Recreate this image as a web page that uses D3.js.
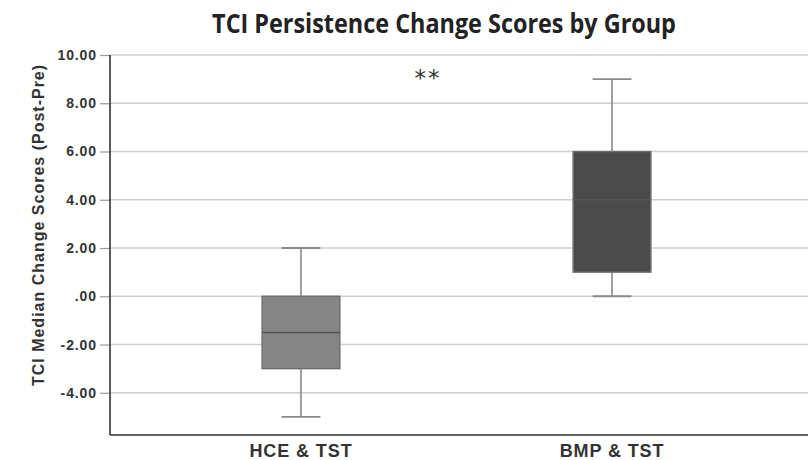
<!DOCTYPE html>
<html>
<head>
<meta charset="utf-8">
<script src="https://cdn.jsdelivr.net/npm/d3@7"></script>
<style>
  body { margin: 0; background: #fff; }
  svg { display: block; }
</style>
</head>
<body>
<script>
// Data
var groups = ["HCE & TST", "BMP & TST"];
var mins    = [-5, 0];
var q1s     = [-3, 1];
var medians = [-1.5, 4];
var q3s     = [0, 6];
var maxs    = [2, 9];
var boxColors = ["#858585", "#4b4b4b"];
var yTicks = [-4, -2, 0, 2, 4, 6, 8, 10];

var svgWidth = 808;
var svgHeight = 460;

var chartMargin = { top: 55, right: 0, bottom: 25, left: 110 };
var chartWidth = svgWidth - chartMargin.left - chartMargin.right;
var chartHeight = svgHeight - chartMargin.top - chartMargin.bottom;

var svg = d3.select("body")
            .append("svg")
            .attr("width", svgWidth)
            .attr("height", svgHeight);

var chartGroup = svg.append("g")
                    .attr("transform", `translate(${chartMargin.left}, ${chartMargin.top})`);

var x = d3.scalePoint()
          .domain(groups)
          .range([0, chartWidth - 5])
          .padding(0.614);

var y = d3.scaleLinear()
          .domain([-5.75, 10])
          .range([chartHeight, 0]);

// gridlines
chartGroup.selectAll(".grid")
          .data(yTicks)
          .enter()
          .append("line")
          .attr("x1", 0)
          .attr("x2", chartWidth)
          .attr("y1", d => y(d))
          .attr("y2", d => y(d))
          .style("stroke", "#cfcfcf")
          .style("stroke-width", 1.5);

// y axis, SPSS style labels (".00", plain hyphen)
var fmt = function(d) {
  var s = d3.format(".2f")(d).replace("\u2212", "-");
  return d === 0 ? ".00" : s;
};
var yAxis = chartGroup.append("g")
          .call(d3.axisLeft(y).tickValues(yTicks).tickFormat(fmt).tickSize(10).tickPadding(3));
yAxis.select(".domain").remove();
yAxis.selectAll(".tick line").style("stroke", "#9a9a9a").style("stroke-width", 1.2);
yAxis.selectAll(".tick text")
     .style("font-family", "Liberation Sans, Arial, sans-serif")
     .style("font-weight", "bold")
     .style("font-size", "14px")
     .style("letter-spacing", "0.9px")
     .style("fill", "#333");

// axis lines
chartGroup.append("line")
          .attr("x1", 0).attr("x2", 0)
          .attr("y1", 0).attr("y2", chartHeight)
          .style("stroke", "#333").style("stroke-width", 1.6);
chartGroup.append("line")
          .attr("x1", 0).attr("x2", chartWidth)
          .attr("y1", chartHeight).attr("y2", chartHeight)
          .style("stroke", "#333").style("stroke-width", 1.6);

// boxes
var boxW = x.step() * 0.25;
var capW = boxW / 2;

var gbox = chartGroup.selectAll(".box")
                     .data(groups)
                     .enter()
                     .append("g");

gbox.append("line")
    .attr("x1", d => x(d)).attr("x2", d => x(d))
    .attr("y1", (d, i) => y(maxs[i])).attr("y2", (d, i) => y(q3s[i]))
    .style("stroke", "#8a8a8a").style("stroke-width", 1.6);
gbox.append("line")
    .attr("x1", d => x(d)).attr("x2", d => x(d))
    .attr("y1", (d, i) => y(q1s[i])).attr("y2", (d, i) => y(mins[i]))
    .style("stroke", "#8a8a8a").style("stroke-width", 1.6);
gbox.append("line")
    .attr("x1", d => x(d) - capW / 2).attr("x2", d => x(d) + capW / 2)
    .attr("y1", (d, i) => y(maxs[i])).attr("y2", (d, i) => y(maxs[i]))
    .style("stroke", "#8a8a8a").style("stroke-width", 1.8);
gbox.append("line")
    .attr("x1", d => x(d) - capW / 2).attr("x2", d => x(d) + capW / 2)
    .attr("y1", (d, i) => y(mins[i])).attr("y2", (d, i) => y(mins[i]))
    .style("stroke", "#8a8a8a").style("stroke-width", 1.8);

gbox.append("rect")
    .attr("x", d => x(d) - boxW / 2)
    .attr("width", boxW)
    .attr("y", (d, i) => y(q3s[i]))
    .attr("height", (d, i) => y(q1s[i]) - y(q3s[i]))
    .style("fill", (d, i) => boxColors[i])
    .style("stroke", "#6e6e6e")
    .style("stroke-width", 1.4);

gbox.append("line")
    .attr("x1", d => x(d) - boxW / 2).attr("x2", d => x(d) + boxW / 2)
    .attr("y1", (d, i) => y(medians[i])).attr("y2", (d, i) => y(medians[i]))
    .style("stroke", "#555").style("stroke-width", 1.4);

// x labels
chartGroup.selectAll(".xlab")
          .data(groups)
          .enter()
          .append("text")
          .attr("x", d => x(d))
          .attr("y", chartHeight + 22)
          .attr("text-anchor", "middle")
          .style("font-family", "Liberation Sans, Arial, sans-serif")
          .style("font-weight", "bold")
          .style("font-size", "18px")
          .style("letter-spacing", "0.9px")
          .style("fill", "#333")
          .text(d => d);

// significance marker
chartGroup.append("text")
          .attr("x", 318)
          .attr("y", 31)
          .attr("text-anchor", "middle")
          .style("font-family", "DejaVu Sans, sans-serif")
          .style("font-size", "23px")
          .style("letter-spacing", "2px")
          .style("fill", "#333")
          .text("**");

// title
svg.append("text")
   .attr("transform", "translate(444, 33) scale(1, 1.14)")
   .attr("text-anchor", "middle")
   .style("font-family", "Open Sans, sans-serif")
   .style("font-weight", "700")
   .style("font-size", "23.4px")
   .style("fill", "#222")
   .text("TCI Persistence Change Scores by Group");

// y axis label
svg.append("text")
   .attr("transform", "translate(44, 225) rotate(-90)")
   .attr("text-anchor", "middle")
   .style("font-family", "Liberation Sans, Arial, sans-serif")
   .style("font-weight", "bold")
   .style("font-size", "16px")
   .style("letter-spacing", "1px")
   .style("fill", "#333")
   .text("TCI Median Change Scores (Post-Pre)");
</script>
</body>
</html>
